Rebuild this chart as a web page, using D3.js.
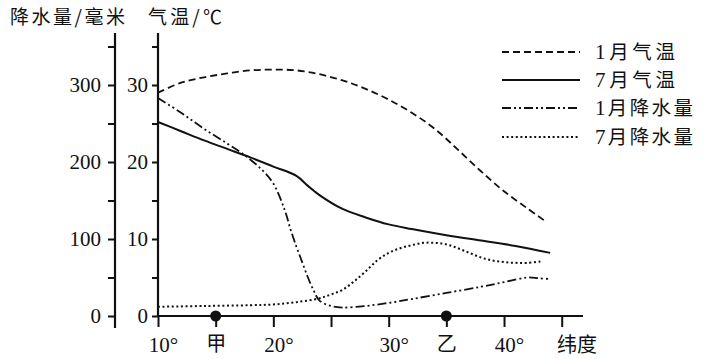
<!DOCTYPE html>
<html>
<head>
<meta charset="utf-8">
<script src="https://cdn.jsdelivr.net/npm/d3@7"></script>
<style>
html,body{margin:0;padding:0;background:#fff;}
svg{display:block;}
</style>
</head>
<body>
<svg id="chart" width="704" height="359"></svg>
<script>
// ---- data ----
const seriesNames = ["1月气温", "7月气温", "1月降水量", "7月降水量"];
const jan_temp_lat = [10, 12, 14, 16, 18, 20, 22, 24, 26, 28, 30, 32, 34, 36, 38, 40, 42, 43.5];
const jan_temp_val = [29, 30.3, 31, 31.5, 31.9, 32, 31.9, 31.4, 30.6, 29.5, 28.1, 26.4, 24.3, 21.6, 18.8, 16.2, 14, 12.4];
const jul_temp_lat = [10, 12, 14, 16, 18, 20, 22, 23, 24, 26, 28, 30, 32, 35, 38, 41, 44];
const jul_temp_val = [25.2, 24, 22.8, 21.7, 20.6, 19.4, 18.2, 16.9, 15.7, 13.9, 12.8, 11.9, 11.3, 10.5, 9.8, 9.1, 8.2];
const jan_prec_lat = [10, 12, 14, 16, 17.5, 19, 20, 21, 21.5, 22, 22.5, 23, 23.5, 24, 25, 26, 28, 30, 32, 35, 38, 40, 42, 43, 44];
const jan_prec_val = [283, 264, 243, 224, 209, 190, 172, 137, 112, 90, 70, 50, 33, 20, 13, 11, 13, 17, 22, 30, 38, 44, 50, 49, 48];
const jul_prec_lat = [10, 14, 18, 20, 22, 24, 25, 26, 27, 28, 29, 30, 31, 32, 33, 34, 35, 36, 37, 38, 39, 40, 41, 42, 43.2];
const jul_prec_val = [12, 13, 14, 15, 18, 23, 28, 34, 45, 58, 72, 82, 88, 92, 95, 95, 93, 88, 82, 76, 72, 70, 69, 69, 71];
const latTicks = [10, 15, 20, 25, 30, 35, 40, 45];
const latLabels = ["10°", "甲", "20°", "", "30°", "乙", "40°", ""];
const precTicks = [0, 50, 100, 150, 200, 250, 300, 350];
const tempTicks = [0, 5, 10, 15, 20, 25, 30, 35];
const markedPlaces = [15, 35];

// ---- scales ----
const svg = d3.select("#chart");
const x = d3.scaleLinear().domain([10, 45]).range([158, 561.7]);
const yP = d3.scaleLinear().domain([0, 350]).range([316, 46.5]);
const yT = d3.scaleLinear().domain([0, 35]).range([316, 46.5]);
const ink = "#111";
const CJK = "Noto Sans CJK SC, Noto Sans, sans-serif";
const SERIF = "Liberation Serif, DejaVu Serif, Tinos, serif";

// ---- titles ----
svg.append("text").attr("font-family", CJK).attr("x", 10).attr("y", 24)
  .attr("font-size", 19).attr("fill", ink)
  .attr("textLength", 115).attr("lengthAdjust", "spacing").text("降水量/毫米");
svg.append("text").attr("font-family", CJK).attr("x", 148).attr("y", 24)
  .attr("font-size", 19).attr("fill", ink)
  .attr("textLength", 74).attr("lengthAdjust", "spacing").text("气温/℃");

// ---- precipitation axis ----
const gP = svg.append("g").attr("transform", "translate(115,0)")
  .call(d3.axisLeft(yP).tickValues(precTicks).tickSize(7).tickPadding(7)
    .tickFormat(d => d % 100 === 0 ? d : ""));
gP.attr("font-family", SERIF).attr("font-size", 21);
gP.select(".domain").remove();
gP.selectAll("line").attr("stroke", ink).attr("stroke-width", 2);
gP.selectAll("text").attr("fill", ink);
svg.append("line").attr("x1", 115).attr("x2", 115).attr("y1", 33).attr("y2", 328)
  .attr("stroke", ink).attr("stroke-width", 2.2);

// ---- temperature axis ----
const gT = svg.append("g").attr("transform", "translate(158,0)")
  .call(d3.axisLeft(yT).tickValues(tempTicks).tickSize(6).tickPadding(4)
    .tickFormat(d => d % 10 === 0 ? d : ""));
gT.attr("font-family", SERIF).attr("font-size", 21);
gT.select(".domain").remove();
gT.selectAll("line").attr("stroke", ink).attr("stroke-width", 2);
gT.selectAll("text").attr("fill", ink);
svg.append("line").attr("x1", 158).attr("x2", 158).attr("y1", 33).attr("y2", 317)
  .attr("stroke", ink).attr("stroke-width", 2.2);

// ---- x axis ----
const gX = svg.append("g").attr("transform", "translate(0,316)")
  .call(d3.axisBottom(x).tickValues(latTicks).tickSize(11).tickPadding(10)
    .tickFormat((d, i) => latLabels[i]));
gX.attr("font-family", SERIF).attr("font-size", 21);
gX.select(".domain").remove();
gX.selectAll("line").attr("stroke", ink).attr("stroke-width", 2);
gX.selectAll("text").attr("fill", ink)
  .attr("font-family", (d, i) => latLabels[i].includes("°") ? SERIF : CJK)
  .attr("font-size", (d, i) => latLabels[i].includes("°") ? 21 : 20)
  .attr("dx", (d, i) => latLabels[i].includes("°") ? 5 : 0);
svg.append("line").attr("x1", 157).attr("x2", 583).attr("y1", 316).attr("y2", 316)
  .attr("stroke", ink).attr("stroke-width", 2.2);
svg.append("text").attr("font-family", CJK).attr("x", 557).attr("y", 352)
  .attr("font-size", 20).attr("fill", ink).text("纬度");

// ---- place markers ----
svg.selectAll("circle.place").data(markedPlaces).join("circle").attr("class", "place")
  .attr("cx", d => x(d)).attr("cy", 316).attr("r", 5.5).attr("fill", ink);

// ---- curves ----
const styles = [
  {dash: "7,4", w: 1.8},
  {dash: null, w: 2},
  {dash: "9,3,2,3,2,3", w: 1.8},
  {dash: "2,2.6", w: 2}
];
const series = [
  {lat: jan_temp_lat, val: jan_temp_val, y: yT},
  {lat: jul_temp_lat, val: jul_temp_val, y: yT},
  {lat: jan_prec_lat, val: jan_prec_val, y: yP},
  {lat: jul_prec_lat, val: jul_prec_val, y: yP}
];
series.forEach((s, i) => {
  const pts = s.lat.map((l, j) => [l, s.val[j]]);
  const line = d3.line().x(d => x(d[0])).y(d => s.y(d[1])).curve(d3.curveCatmullRom.alpha(0.5));
  svg.append("path").datum(pts).attr("d", line).attr("fill", "none")
    .attr("stroke", ink).attr("stroke-width", styles[i].w)
    .attr("stroke-dasharray", styles[i].dash);
});

// ---- legend ----
const legY = [52, 80, 108, 137];
seriesNames.forEach((name, i) => {
  svg.append("line").attr("x1", 502).attr("x2", 580).attr("y1", legY[i]).attr("y2", legY[i])
    .attr("stroke", ink).attr("stroke-width", styles[i].w)
    .attr("stroke-dasharray", styles[i].dash);
  const t = svg.append("text").attr("x", 595).attr("y", legY[i] + 7)
    .attr("font-size", 19.5).attr("fill", ink)
    .attr("textLength", name.length === 4 ? 80 : 98).attr("lengthAdjust", "spacing");
  t.append("tspan").attr("font-family", SERIF).attr("font-size", 21).text(name[0]);
  t.append("tspan").attr("font-family", CJK).text(name.slice(1));
});
</script>
</body>
</html>
